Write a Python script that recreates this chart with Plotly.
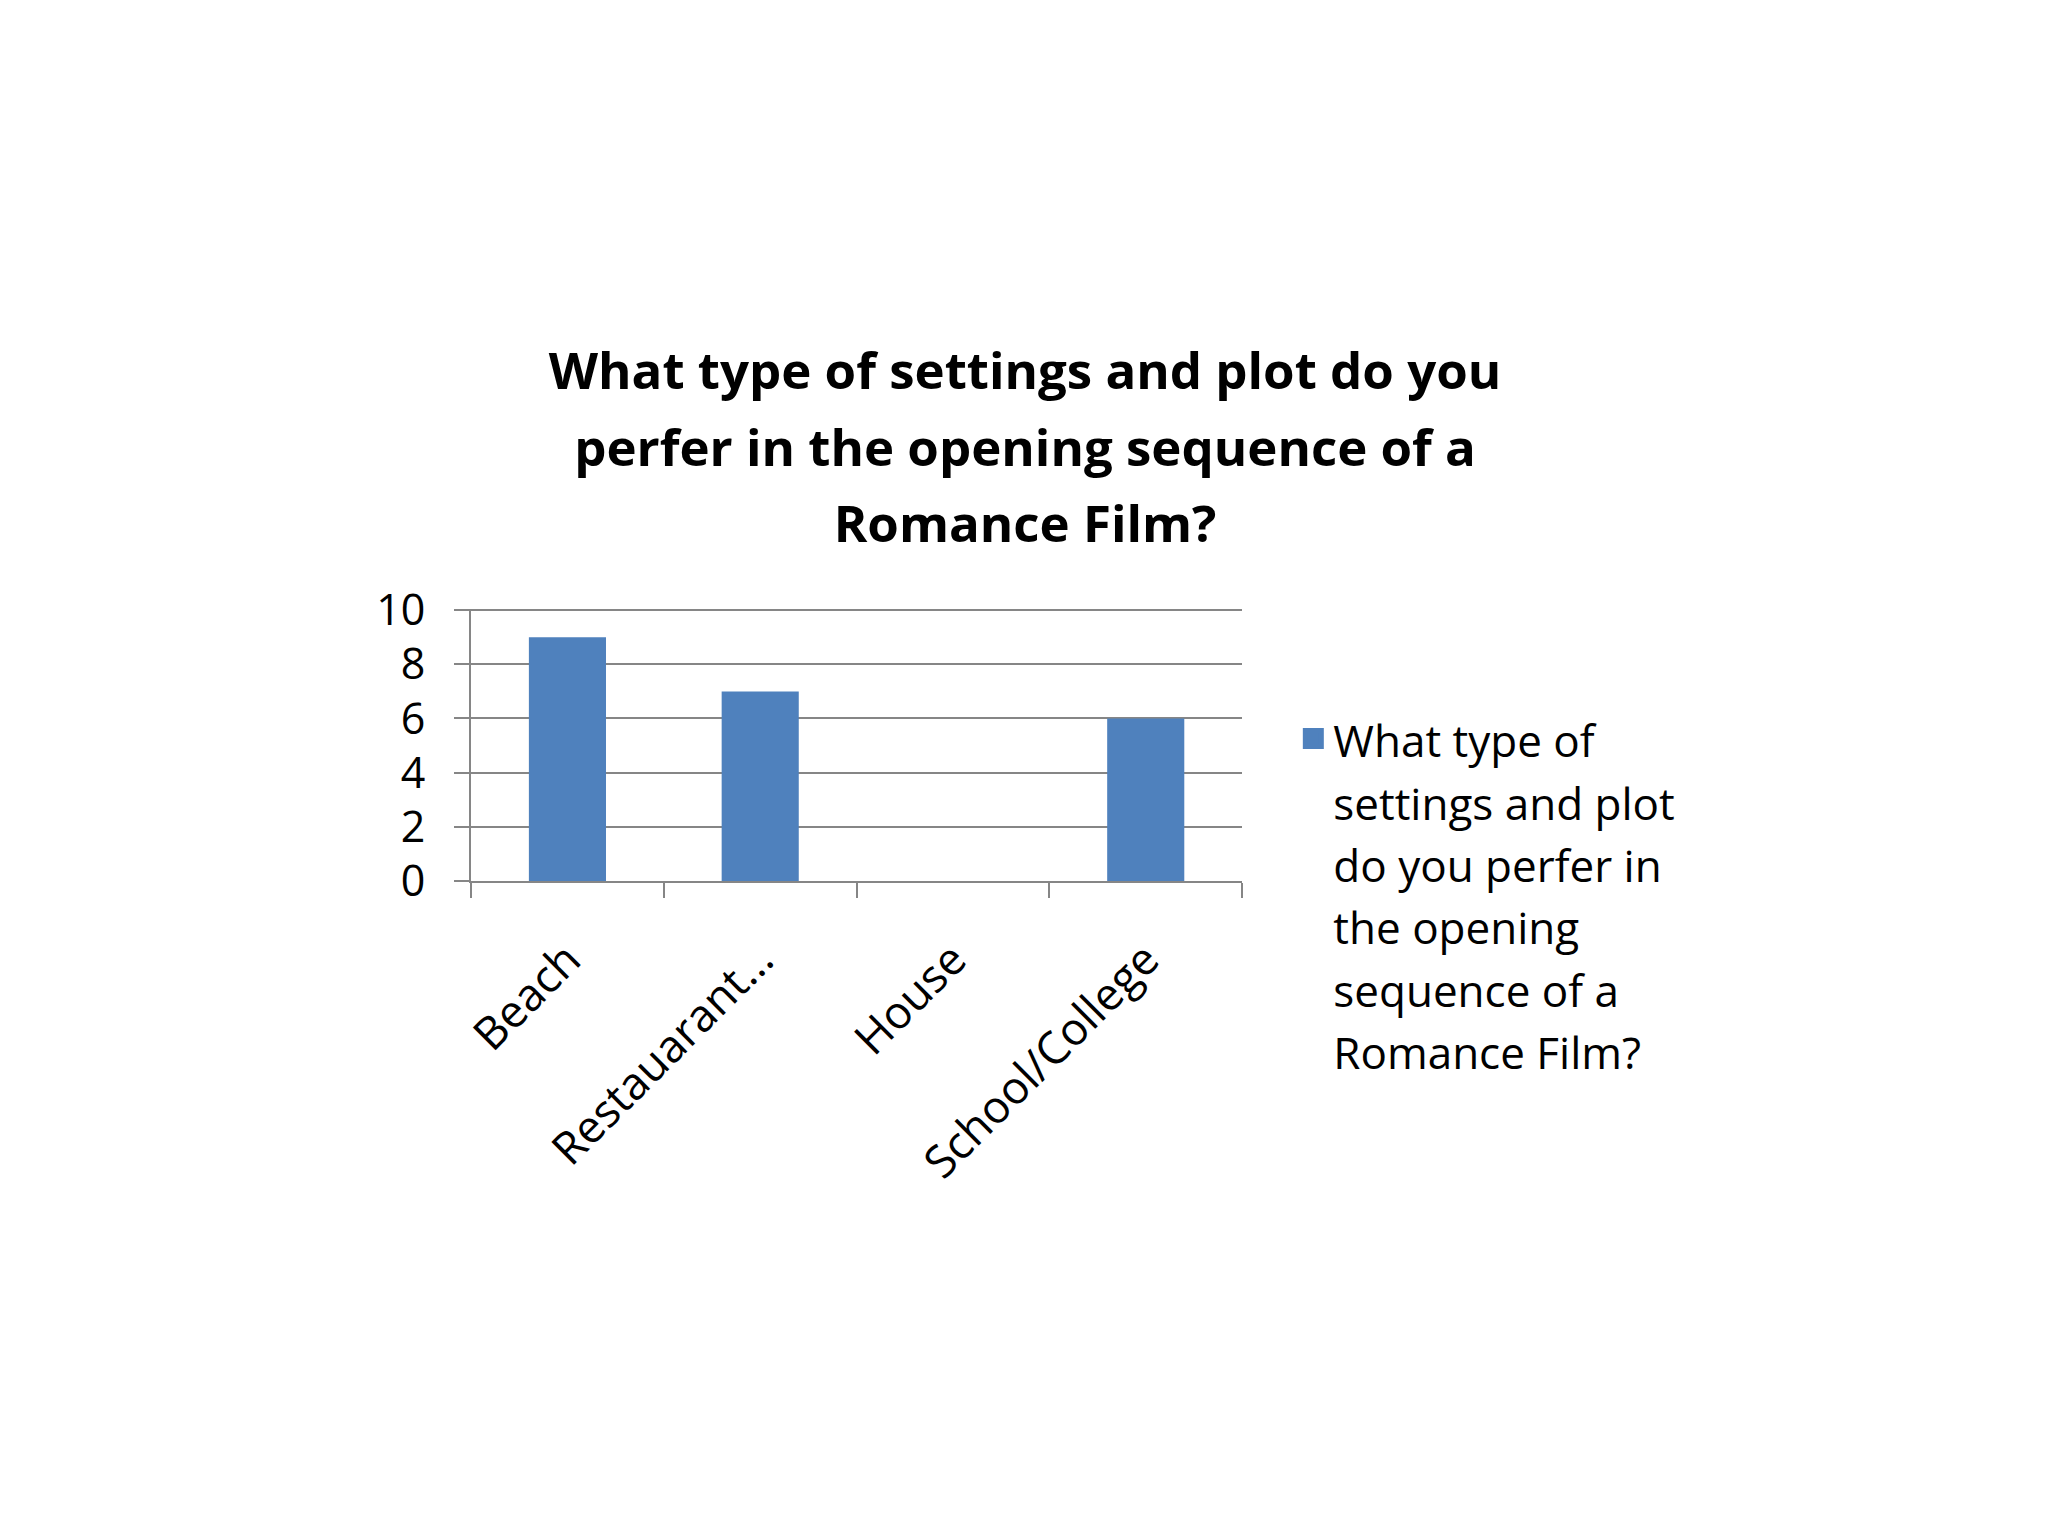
import plotly.graph_objects as go

W, H = 2048, 1536

categories = ['Beach', 'Restauarant…', 'House', 'School/College']
values = [9, 7, 0, 6]
y_ticks = [0, 2, 4, 6, 8, 10]
title_lines = ['What type of settings and plot do you',
               'perfer in the opening sequence of a',
               'Romance Film?']
legend_lines = ['What type of', 'settings and plot', 'do you perfer in',
                'the opening', 'sequence of a', 'Romance Film?']

FONT = 'Open Sans, sans-serif'
BLUE = '#4F81BD'
GREY = '#868686'


def shrink(lines, px):
    # keep the outer font size for line spacing, draw the glyphs a bit smaller
    return '<br>'.join(f'<span style="font-size:{px}px">{s}</span>' for s in lines)


fig = go.Figure()
fig.add_trace(go.Bar(
    x=categories,
    y=values,
    marker=dict(color=BLUE, line=dict(width=0)),
    showlegend=False,
))
# legend key only: a bigger square than the default bar swatch
fig.add_trace(go.Scatter(
    x=[None], y=[None],
    mode='markers',
    name=shrink(legend_lines, 44),
    marker=dict(symbol='square', size=16, color=BLUE, line=dict(width=5, color=BLUE)),
    showlegend=True,
))

fig.update_layout(
    width=W,
    height=H,
    paper_bgcolor='white',
    plot_bgcolor='white',
    margin=dict(t=0, r=0, b=0, l=0, autoexpand=False),
    font=dict(family=FONT, size=44, color='black'),
    bargap=0.6,
    title=dict(
        text=shrink(title_lines, 51),
        x=0.4966, xanchor='center',
        y=0.752, yanchor='top',
        font=dict(family=FONT, size=59, color='black', weight='bold'),
    ),
    legend=dict(
        x=0.6276, xanchor='left',
        y=0.549, yanchor='top',
        valign='top',
        itemsizing='trace',
        font=dict(family=FONT, size=48, color='black'),
        bgcolor='rgba(0,0,0,0)',
    ),
)

fig.update_xaxes(
    domain=[0.2261, 0.6026],
    showline=True, linecolor=GREY, linewidth=2,
    ticks='outside', tickson='boundaries', ticklen=15, tickcolor=GREY, tickwidth=2,
    tickangle=-45, ticklabelstandoff=32,
    tickfont=dict(size=45),
    showgrid=False,
    automargin=False,
)
fig.update_yaxes(
    domain=[0.4316, 0.6087],
    range=[0, 10.04],
    tickvals=y_ticks,
    showline=True, linecolor=GREY, linewidth=2,
    ticks='outside', ticklen=15, tickcolor=GREY, tickwidth=2,
    ticklabelstandoff=20,
    tickfont=dict(size=43),
    showgrid=True, gridcolor=GREY, gridwidth=2,
    zeroline=False,
    automargin=False,
)

fig.write_html('out.html')
